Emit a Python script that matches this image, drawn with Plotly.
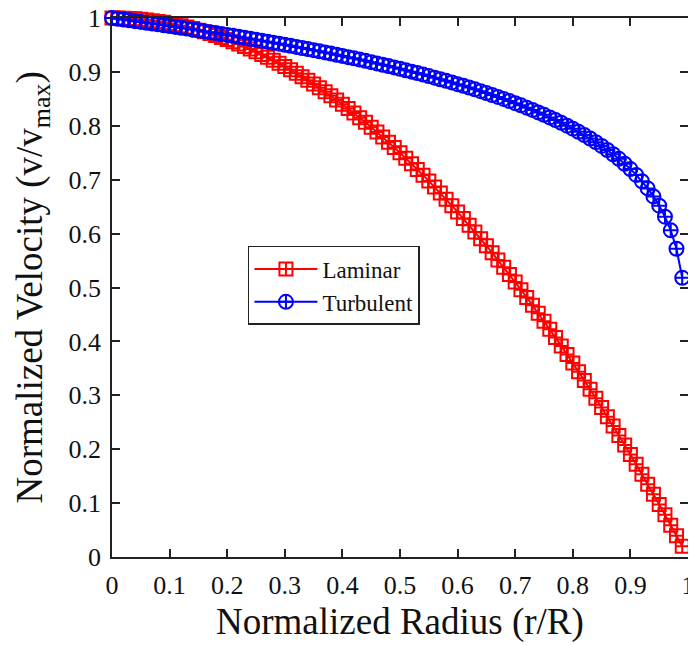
import plotly.graph_objects as go

r = [round(i * 0.01, 2) for i in range(100)]

laminar = [1.0000, 0.9999, 0.9996, 0.9991, 0.9984, 0.9975, 0.9964, 0.9951, 0.9936, 0.9919,
           0.9900, 0.9879, 0.9856, 0.9831, 0.9804, 0.9775, 0.9744, 0.9711, 0.9676, 0.9639,
           0.9600, 0.9559, 0.9516, 0.9471, 0.9424, 0.9375, 0.9324, 0.9271, 0.9216, 0.9159,
           0.9100, 0.9039, 0.8976, 0.8911, 0.8844, 0.8775, 0.8704, 0.8631, 0.8556, 0.8479,
           0.8400, 0.8319, 0.8236, 0.8151, 0.8064, 0.7975, 0.7884, 0.7791, 0.7696, 0.7599,
           0.7500, 0.7399, 0.7296, 0.7191, 0.7084, 0.6975, 0.6864, 0.6751, 0.6636, 0.6519,
           0.6400, 0.6279, 0.6156, 0.6031, 0.5904, 0.5775, 0.5644, 0.5511, 0.5376, 0.5239,
           0.5100, 0.4959, 0.4816, 0.4671, 0.4524, 0.4375, 0.4224, 0.4071, 0.3916, 0.3759,
           0.3600, 0.3439, 0.3276, 0.3111, 0.2944, 0.2775, 0.2604, 0.2431, 0.2256, 0.2079,
           0.1900, 0.1719, 0.1536, 0.1351, 0.1164, 0.0975, 0.0784, 0.0591, 0.0396, 0.0199]

turbulent = [1.0000, 0.9986, 0.9971, 0.9957, 0.9942, 0.9927, 0.9912, 0.9897, 0.9882, 0.9866,
             0.9851, 0.9835, 0.9819, 0.9803, 0.9787, 0.9771, 0.9754, 0.9737, 0.9721, 0.9703,
             0.9686, 0.9669, 0.9651, 0.9634, 0.9616, 0.9597, 0.9579, 0.9560, 0.9542, 0.9523,
             0.9503, 0.9484, 0.9464, 0.9444, 0.9424, 0.9403, 0.9382, 0.9361, 0.9340, 0.9318,
             0.9296, 0.9274, 0.9251, 0.9228, 0.9205, 0.9181, 0.9157, 0.9133, 0.9108, 0.9083,
             0.9057, 0.9031, 0.9005, 0.8978, 0.8950, 0.8922, 0.8893, 0.8864, 0.8834, 0.8804,
             0.8773, 0.8741, 0.8709, 0.8676, 0.8642, 0.8607, 0.8572, 0.8535, 0.8498, 0.8459,
             0.8420, 0.8379, 0.8337, 0.8294, 0.8249, 0.8203, 0.8156, 0.8106, 0.8055, 0.8002,
             0.7946, 0.7888, 0.7827, 0.7764, 0.7697, 0.7626, 0.7551, 0.7472, 0.7387, 0.7296,
             0.7197, 0.7089, 0.6971, 0.6839, 0.6690, 0.6518, 0.6314, 0.6060, 0.5719, 0.5180]

x_ticks = [0, 0.1, 0.2, 0.3, 0.4, 0.5, 0.6, 0.7, 0.8, 0.9, 1]
x_tick_labels = ["0", "0.1", "0.2", "0.3", "0.4", "0.5", "0.6", "0.7", "0.8", "0.9", "1"]
y_ticks = x_ticks
y_tick_labels = x_tick_labels

x_title = "Normalized Radius (r/R)"
y_title = "Normalized Velocity (v/v<sub>max</sub>)"

FONT = "Liberation Serif, Times New Roman, serif"

fig = go.Figure()
fig.add_trace(go.Scatter(
    x=r, y=laminar, name="Laminar", mode="lines+markers",
    line=dict(color="#ff0000", width=2),
    marker=dict(symbol="square-cross-open", size=13, color="#ff0000",
                line=dict(color="#ff0000", width=2)),
    cliponaxis=False,
))
fig.add_trace(go.Scatter(
    x=r, y=turbulent, name="Turbulent", mode="lines+markers",
    line=dict(color="#0000ff", width=2),
    marker=dict(symbol="circle-cross-open", size=14, color="#0000ff",
                line=dict(color="#0000ff", width=2)),
    cliponaxis=False,
))

axis_common = dict(
    range=[0, 1], showgrid=False, zeroline=False, automargin=False,
    showline=True, linecolor="#222", linewidth=1.5, mirror="ticks",
    ticks="inside", ticklen=8, tickwidth=1.5, tickcolor="#222",
    tickfont=dict(family=FONT, size=26, color="#111"),
    ticklabeloverflow="allow",
)

# page has an 8px body margin, so the figure is 8px smaller on each axis
fig.update_layout(
    width=688, height=637,
    margin=dict(l=104, r=8, t=10, b=88),
    paper_bgcolor="white", plot_bgcolor="white",
    font=dict(family=FONT, color="#111"),
    xaxis=dict(**axis_common, tickvals=x_ticks, ticktext=x_tick_labels, ticklabelstandoff=4),
    yaxis=dict(**axis_common, tickvals=y_ticks, ticktext=y_tick_labels, ticklabelstandoff=4),
    showlegend=True,
    legend=dict(x=0.236, y=0.577, xanchor="left", yanchor="top",
                bgcolor="white", bordercolor="#222", borderwidth=1.5,
                font=dict(family=FONT, size=23, color="#111"),
                itemwidth=63, tracegroupgap=0),
    annotations=[
        dict(text=x_title, xref="paper", yref="paper", x=0.5, y=-0.1206,
             xanchor="center", yanchor="middle", showarrow=False,
             font=dict(family=FONT, size=37, color="#111")),
        dict(text=y_title, xref="paper", yref="paper", x=-0.138, y=0.499,
             xanchor="center", yanchor="middle", textangle=-90, showarrow=False,
             font=dict(family=FONT, size=37, color="#111")),
    ],
)

fig.write_html("out.html")
